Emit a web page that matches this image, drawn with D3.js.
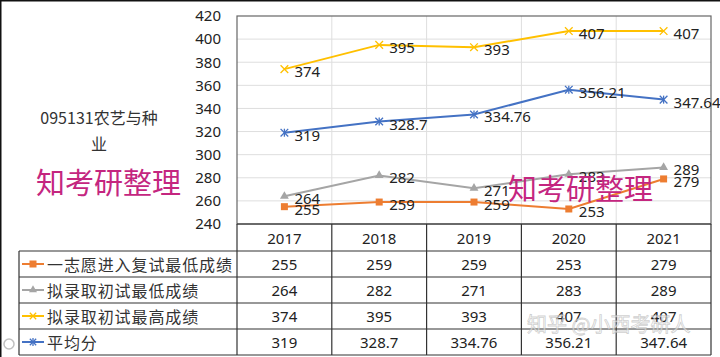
<!DOCTYPE html>
<html><head><meta charset="utf-8">
<script src="https://cdn.jsdelivr.net/npm/d3@7"></script>
<style>body{margin:0;background:#fff;}svg{display:block;}</style>
</head><body>
<svg id="c" width="720" height="357"></svg>
<script>
const years = ["2017","2018","2019","2020","2021"];
const seriesNames = ["一志愿进入复试最低成绩","拟录取初试最低成绩","拟录取初试最高成绩","平均分"];
const firstChoiceMin = [255,259,259,253,279];
const admitMin = [264,282,271,283,289];
const admitMax = [374,395,393,407,407];
const average = [319,328.7,334.76,356.21,347.64];
const yTicks = [240,260,280,300,320,340,360,380,400,420];
const colors = ["#ED7D31","#A5A5A5","#FFC000","#4472C4"];
const markers = ["square","triangle","x","star"];
const allSeries = [firstChoiceMin, admitMin, admitMax, average];

const svg = d3.select("#c");
const FONT = "'Noto Sans','Noto Sans CJK SC',sans-serif";
const CJK = "'Noto Sans CJK SC','Noto Sans',sans-serif";

const x = d3.scaleBand().domain(years).range([237,711]);
const y = d3.scaleLinear().domain([240,420]).range([224,16]);
const xc = d => x(d) + x.bandwidth()/2;

// outer frame (left, top)
svg.append("line").attr("x1",0.75).attr("x2",0.75).attr("y1",0).attr("y2",357).attr("stroke","#111").attr("stroke-width",1.5);
svg.append("line").attr("x1",0).attr("x2",720).attr("y1",0.75).attr("y2",0.75).attr("stroke","#111").attr("stroke-width",1.5);

// gridlines
const g = svg.append("g");
g.selectAll("line.h").data(yTicks.slice(1,-1)).join("line")
  .attr("x1",237).attr("x2",711).attr("y1",d=>y(d)).attr("y2",d=>y(d))
  .attr("stroke","#dedede").attr("stroke-width",1);
g.selectAll("line.v").data(years.slice(1)).join("line")
  .attr("x1",d=>x(d)).attr("x2",d=>x(d)).attr("y1",16).attr("y2",224)
  .attr("stroke","#dedede").attr("stroke-width",1);
// plot border
g.append("rect").attr("x",237).attr("y",16).attr("width",474).attr("height",208)
  .attr("fill","none").attr("stroke","#666").attr("stroke-width",1.2);

// y axis
const ya = svg.append("g").attr("transform","translate(237,0)")
  .call(d3.axisLeft(y).tickValues(yTicks).tickSize(0).tickPadding(16));
ya.select(".domain").remove();
ya.selectAll("text").attr("font-family",FONT).attr("font-size",15).attr("fill","#222");

// table lines
const tg = svg.append("g").attr("stroke","#333").attr("stroke-width",1.2);
const rowTops = [224,251,277,303,329,355];
rowTops.forEach((ry,i)=>{
  tg.append("line").attr("x1", i===0?237:19).attr("x2",711).attr("y1",ry).attr("y2",ry);
});
tg.append("line").attr("x1",19).attr("x2",19).attr("y1",251).attr("y2",355);
[...years.map(d=>x(d)), 711].forEach(vx=>{
  tg.append("line").attr("x1",vx).attr("x2",vx).attr("y1",224).attr("y2",355);
});

// header years
svg.append("g").selectAll("text").data(years).join("text")
  .attr("x",d=>xc(d)).attr("y",238).attr("text-anchor","middle").attr("dominant-baseline","central")
  .attr("font-family",FONT).attr("font-size",15).attr("fill","#222").text(d=>d);

function marker(sel, type, color, size){
  if(type==="square"){
    sel.append("rect").attr("x",-3.5).attr("y",-3.5).attr("width",7).attr("height",7).attr("fill",color);
  } else if(type==="triangle"){
    sel.append("path").attr("d",d3.symbol(d3.symbolTriangle,size||34)()).attr("fill",color);
  } else if(type==="x"){
    sel.append("path").attr("d",d3.symbol(d3.symbolTimes,size||40)()).attr("fill","none").attr("stroke",color).attr("stroke-width",1.3);
  } else {
    sel.append("path").attr("d",d3.symbol(d3.symbolTimes,size||40)()).attr("fill","none").attr("stroke",color).attr("stroke-width",1.3);
    sel.append("line").attr("x1",0).attr("x2",0).attr("y1",-4).attr("y2",4).attr("stroke",color).attr("stroke-width",1.3);
  }
}

// table rows
const rowCenters = [264,290,316,342];
allSeries.forEach((vals,i)=>{
  const cy = rowCenters[i];
  svg.append("line").attr("x1",22).attr("x2",44).attr("y1",cy).attr("y2",cy).attr("stroke",colors[i]).attr("stroke-width",2);
  marker(svg.append("g").attr("transform",`translate(33,${cy})`), markers[i], colors[i], 28);
  svg.append("text").attr("x",47).attr("y",cy).attr("dominant-baseline","central")
    .attr("font-family",CJK).attr("font-size",16).attr("letter-spacing",0.9).attr("fill","#333").text(seriesNames[i]);
  svg.append("g").selectAll("text").data(vals).join("text")
    .attr("x",(d,j)=>xc(years[j])).attr("y",cy).attr("text-anchor","middle").attr("dominant-baseline","central")
    .attr("font-family",FONT).attr("font-size",15).attr("fill","#222").text(d=>d);
});

// lines, markers, labels
const line = d3.line().x((d,j)=>xc(years[j])).y(d=>y(d));
allSeries.forEach((vals,i)=>{
  svg.append("path").datum(vals).attr("d",line).attr("fill","none").attr("stroke",colors[i]).attr("stroke-width",2);
  vals.forEach((v,j)=>{
    marker(svg.append("g").attr("transform",`translate(${xc(years[j])},${y(v)})`), markers[i], colors[i]);
  });
});
allSeries.forEach((vals,i)=>{
  svg.append("g").selectAll("text").data(vals).join("text")
    .attr("x",(d,j)=>xc(years[j])+10).attr("y",d=>y(d)+2).attr("dominant-baseline","central")
    .attr("font-family",FONT).attr("font-size",15).attr("fill","#222").text(d=>d);
});

// title
svg.append("text").attr("x",99).attr("y",117).attr("text-anchor","middle").attr("dominant-baseline","central")
  .attr("font-family",CJK).attr("font-size",16).attr("fill","#333").text("095131农艺与种");
svg.append("text").attr("x",99).attr("y",143).attr("text-anchor","middle").attr("dominant-baseline","central")
  .attr("font-family",CJK).attr("font-size",16).attr("fill","#333").text("业");

// watermarks
svg.append("text").attr("x",36).attr("y",181).attr("dominant-baseline","central")
  .attr("font-family",CJK).attr("font-size",29).attr("fill","#c4267f").text("知考研整理");
svg.append("text").attr("x",508).attr("y",187).attr("dominant-baseline","central")
  .attr("font-family",CJK).attr("font-size",29).attr("fill","#c4267f").text("知考研整理");
svg.append("text").attr("x",527).attr("y",323).attr("dominant-baseline","central")
  .attr("font-family",CJK).attr("font-size",20).attr("fill","rgba(255,255,255,0.6)")
  .attr("stroke","rgba(160,160,160,0.5)").attr("stroke-width",0.8).text("知乎 @小西考研人");
svg.append("circle").attr("cx",9).attr("cy",344).attr("r",5).attr("fill","none").attr("stroke","rgba(150,150,150,0.6)").attr("stroke-width",1.5);
</script>
</body></html>
